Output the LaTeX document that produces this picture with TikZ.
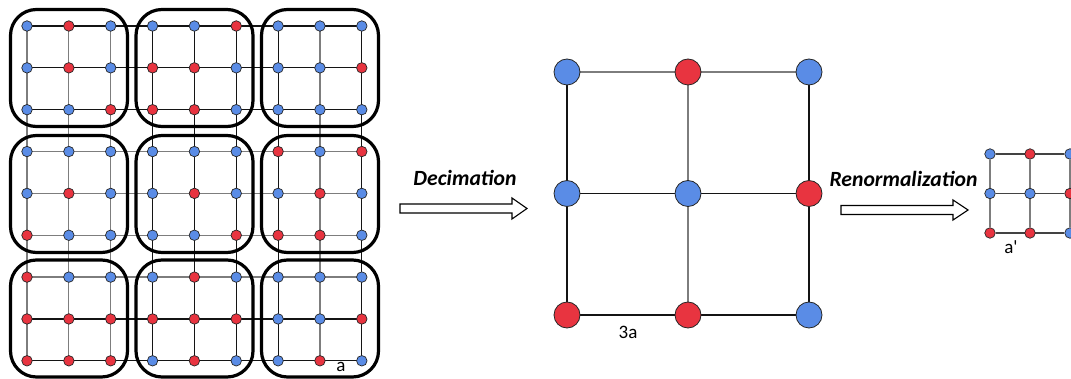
\documentclass[tikz,border=0pt]{standalone}
\usepackage{fontspec}
\setmainfont{Carlito}
\usetikzlibrary{backgrounds}
\definecolor{sblue}{RGB}{90,140,230}
\definecolor{sred}{RGB}{232,52,64}
\definecolor{lgray}{RGB}{125,125,125}
\definecolor{dk}{RGB}{20,20,20}
\begin{document}
\begin{tikzpicture}[x=1pt,y=-1pt,
  dot/.style={circle, draw=black!85, line width=0.7pt, inner sep=0pt, minimum size=10.5pt},
  bigdot/.style={circle, draw=black!85, line width=0.8pt, inner sep=0pt, minimum size=26pt},
  cb/.style={fill=sblue}, cr/.style={fill=sred},
  gl/.style={line width=1.2pt},
  blockbox/.style={draw=black, line width=3.2pt, rounded corners=26pt, minimum width=117pt, minimum height=117pt, inner sep=0pt},
  fatarrow/.style={draw=black, line width=1.1pt, fill=white, line join=miter},
  title/.style={font=\fontsize{21.7}{24}\selectfont\bfseries\itshape, inner sep=0pt},
  lbl/.style={font=\fontsize{19}{21}\selectfont, inner sep=0pt}]
\useasboundingbox (0,0) rectangle (1071,379);
\begin{scope}[on background layer]
  \fill[white] (0,0) rectangle (1071,379);
\end{scope}
% left 9x9 lattice
\foreach \row [count=\j] in {
  {cb,cr,cb,cb,cb,cr,cb,cb,cb},
  {cb,cr,cb,cr,cr,cb,cb,cb,cr},
  {cb,cb,cr,cr,cr,cb,cb,cb,cb},
  {cb,cb,cb,cb,cb,cb,cr,cb,cr},
  {cb,cr,cb,cb,cr,cb,cb,cr,cb},
  {cr,cb,cb,cb,cb,cr,cr,cr,cb},
  {cr,cb,cb,cb,cr,cb,cb,cb,cb},
  {cr,cr,cr,cr,cr,cr,cb,cb,cr},
  {cr,cr,cr,cb,cr,cb,cb,cr,cb}} {
  \foreach \c [count=\i] in \row {
    \node[dot,\c] (L-\i-\j) at ({27+41.85*(\i-1)},{26+41.85*(\j-1)}) {};
  }
}
\begin{scope}[on background layer]
  \foreach \i/\col in {1/lgray,2/lgray,3/lgray,4/dk,5/dk,6/dk,7/dk,8/lgray,9/dk}
    \draw[gl,\col] (L-\i-1.center) -- (L-\i-9.center);
  \foreach \j/\col in {1/dk,2/dk,3/dk,4/lgray,5/lgray,6/lgray,7/lgray,8/dk,9/dk}
    \draw[gl,\col] (L-1-\j.center) -- (L-9-\j.center);
\end{scope}
% blocks
\foreach \bx/\cx in {1/69,2/194.5,3/320}
  \foreach \by/\cy in {1/68,2/194,3/318.5}
    \node[blockbox] (K-\bx-\by) at (\cx,\cy) {};
\node[lbl] (la) at (341,367) {a};
% decimation arrow
\draw[fatarrow] (400,204) -- (512,204) -- (512,198) -- (527,208.5) -- (512,219) -- (512,213) -- (400,213) -- cycle;
\node[title] (tdec) at (465,178) {Decimation};
% middle lattice
\foreach \row [count=\j] in {{cb,cr,cb},{cb,cb,cr},{cr,cr,cb}} {
  \foreach \c [count=\i] in \row {
    \node[bigdot,\c] (M-\i-\j) at ({567+121*(\i-1)},{72+121.5*(\j-1)}) {};
  }
}
\begin{scope}[on background layer]
  \draw[gl,lgray] (M-1-1) -- (M-3-1);
  \draw[gl,dk] (M-1-2) -- (M-3-2);
  \draw[gl,dk] (M-1-3) -- (M-3-3);
  \draw[gl,dk] (M-1-1) -- (M-1-3);
  \draw[gl,lgray] (M-2-1) -- (M-2-3);
  \draw[gl,dk] (M-3-1) -- (M-3-3);
\end{scope}
\node[lbl] (l3a) at (628,332) {3a};
% renormalization arrow
\draw[fatarrow] (841,205.5) -- (953,205.5) -- (953,200) -- (968,210) -- (953,220) -- (953,214.5) -- (841,214.5) -- cycle;
\node[title] (tren) at (903.5,179) {Renormalization};
% small lattice
\foreach \row [count=\j] in {{cb,cr,cb},{cb,cb,cr},{cr,cr,cb}} {
  \foreach \c [count=\i] in \row {
    \node[dot,\c] (S-\i-\j) at ({990+40*(\i-1)},{154+39.5*(\j-1)}) {};
  }
}
\begin{scope}[on background layer]
  \foreach \i in {1,2,3} {
    \draw[gl,lgray] (S-\i-1) -- (S-\i-3);
    \draw[gl,dk!80] (S-1-\i) -- (S-3-\i);
  }
\end{scope}
\node[lbl] (lap) at (1011,247) {a\textquotesingle};
\end{tikzpicture}
\end{document}
